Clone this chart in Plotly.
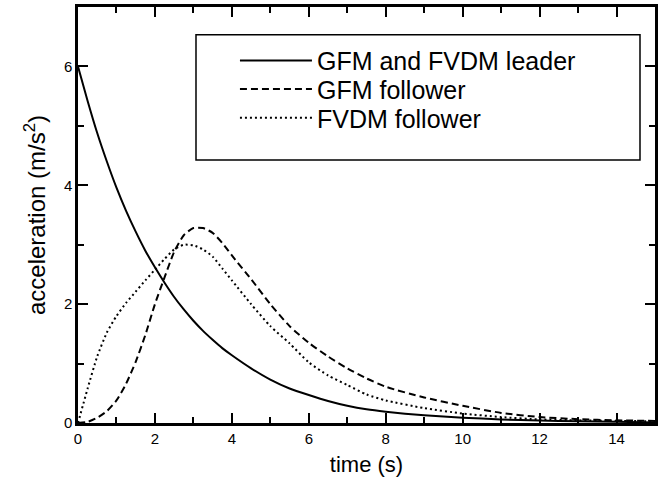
import plotly.graph_objects as go

t = [0, 0.25, 0.5, 0.75, 1, 1.25, 1.5, 1.75, 2, 2.25, 2.5, 2.75, 3, 3.25, 3.5, 3.75,
     4, 4.5, 5, 5.5, 6, 6.5, 7, 7.5, 8, 9, 10, 11, 12, 13, 14, 15]

leader = [6.0, 5.42, 4.88, 4.4, 3.96, 3.57, 3.22, 2.9, 2.62, 2.36, 2.12, 1.91, 1.72, 1.55, 1.4, 1.26,
          1.14, 0.92, 0.73, 0.58, 0.47, 0.37, 0.29, 0.23, 0.19, 0.13, 0.09, 0.06, 0.04, 0.03, 0.02, 0.01]

gfm_follower = [0.0, 0.02, 0.09, 0.2, 0.38, 0.66, 1.03, 1.48, 2.0, 2.45, 2.88, 3.16, 3.28, 3.28, 3.2, 3.03,
                2.82, 2.42, 2.0, 1.63, 1.35, 1.12, 0.92, 0.75, 0.61, 0.43, 0.29, 0.17, 0.1, 0.065, 0.045, 0.035]

fvdm_follower = [0.0, 0.58, 1.12, 1.52, 1.8, 2.02, 2.21, 2.4, 2.58, 2.76, 2.92, 3.0, 2.99, 2.92, 2.8, 2.6,
                 2.4, 2.0, 1.63, 1.34, 1.02, 0.8, 0.64, 0.48, 0.38, 0.25, 0.16, 0.1, 0.06, 0.045, 0.035, 0.03]

names = ["GFM and FVDM leader", "GFM follower", "FVDM follower"]
x_ticks = [0, 2, 4, 6, 8, 10, 12, 14]
y_ticks = [0, 2, 4, 6]

FONT = "Liberation Sans, Arial, sans-serif"

fig = go.Figure()
fig.add_trace(go.Scatter(x=t, y=leader, mode="lines", name=names[0], legend="legend",
                         line=dict(color="black", width=2, shape="spline", smoothing=0.6)))
fig.add_trace(go.Scatter(x=t, y=gfm_follower, mode="lines", name=names[1], legend="legend2",
                         line=dict(color="black", width=2, dash="7px,4px", shape="spline", smoothing=0.6)))
fig.add_trace(go.Scatter(x=t, y=fvdm_follower, mode="lines", name=names[2], legend="legend3",
                         line=dict(color="black", width=2, dash="2px,3px", shape="spline", smoothing=0.6)))

axis_common = dict(
    showline=True, linecolor="black", linewidth=2.5, mirror="allticks",
    ticks="inside", ticklen=10, tickwidth=2, tickcolor="black",
    showgrid=False, zeroline=False,
    tickfont=dict(family=FONT, size=15, color="black"),
)

fig.update_xaxes(range=[0, 15], tickvals=x_ticks,
                 minor=dict(dtick=1, ticks="inside", ticklen=6, tickwidth=2, tickcolor="black"),
                 title=dict(text="time (s)", font=dict(family=FONT, size=22, color="black"), standoff=11),
                 **axis_common)
fig.update_yaxes(range=[0, 7], tickvals=y_ticks,
                 minor=dict(dtick=1, ticks="inside", ticklen=6, tickwidth=2, tickcolor="black"),
                 title=dict(text="acceleration (m/s<sup>2</sup>)", font=dict(family=FONT, size=24, color="black"), standoff=12),
                 **axis_common)

# legend frame (decorative box around the legend entries)
fig.add_shape(type="rect", xref="paper", yref="paper",
              x0=0.2045, x1=0.974, y0=0.632, y1=0.933,
              line=dict(color="black", width=1.5), fillcolor="rgba(0,0,0,0)", layer="above")

legend_style = dict(xanchor="left", yanchor="middle", x=0.272,
                    bgcolor="rgba(0,0,0,0)", borderwidth=0,
                    font=dict(family=FONT, size=25, color="black"),
                    itemwidth=72)

fig.update_layout(
    width=665, height=493,
    margin=dict(l=78, r=10, t=4, b=70),
    paper_bgcolor="white", plot_bgcolor="white",
    showlegend=True,
    legend=dict(y=0.871, **legend_style),
    legend2=dict(y=0.802, **legend_style),
    legend3=dict(y=0.733, **legend_style),
)

fig.write_html("out.html")
